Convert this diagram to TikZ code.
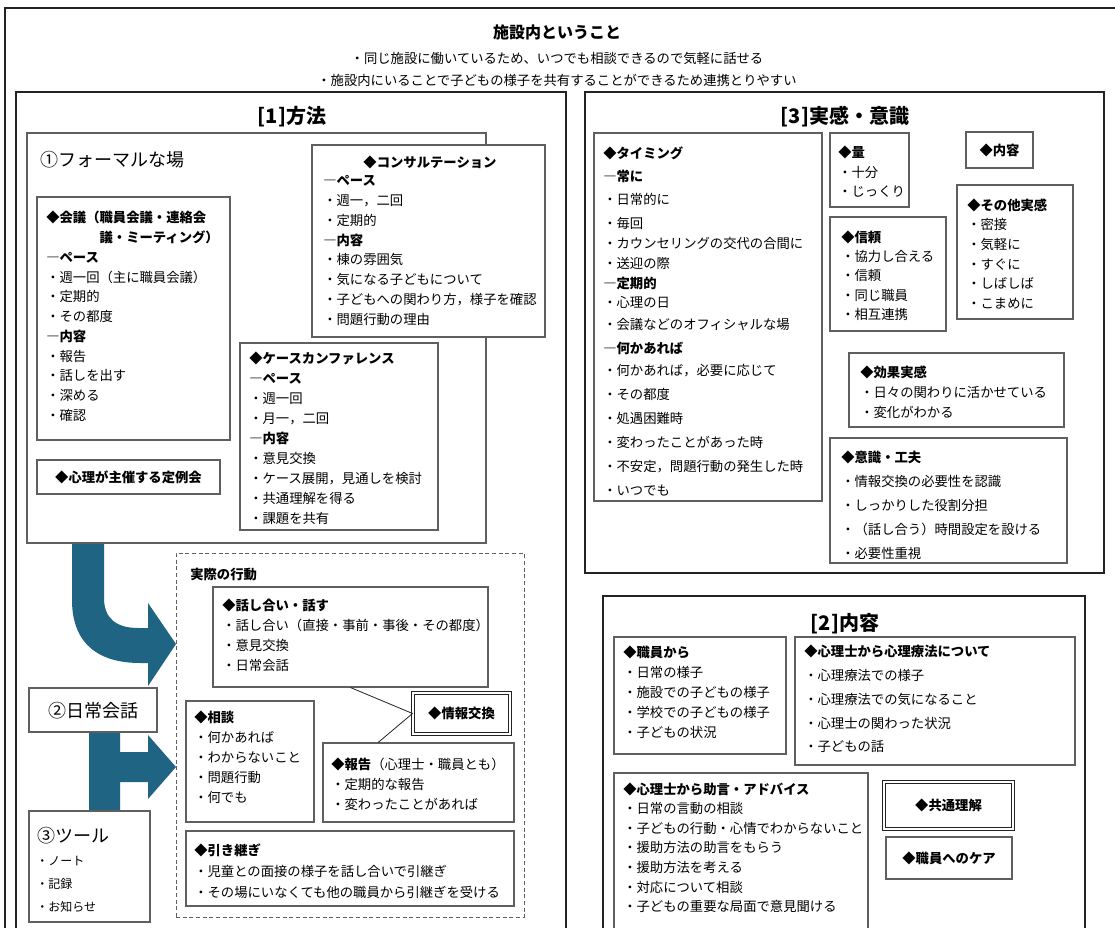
\documentclass[tikz,border=0pt]{standalone}
\usepackage{fontspec}
\setmainfont{Noto Sans CJK JP}
\usetikzlibrary{fit,calc}
\definecolor{arrowteal}{RGB}{31,100,130}
\definecolor{edgegray}{RGB}{95,95,95}
\definecolor{darkline}{RGB}{35,35,35}
\newcommand{\mybox}[6][box]{\node[#1, fit={(#3,#4) (#5,#6)}] (#2) {};}
\begin{document}
\begin{tikzpicture}[x=0.75pt,y=-0.75pt,
 box/.style={draw=edgegray, line width=0.8pt, fill=white, inner sep=0pt},
 sect/.style={draw=darkline, line width=1.6pt, fill=white, inner sep=0pt},
 dbox/.style={draw=darkline, double=white, double distance=1.5pt, line width=0.7pt, fill=white, inner sep=0pt},
 dashbox/.style={draw=edgegray, dash pattern=on 3pt off 2pt, line width=0.6pt, inner sep=0pt},
 txt/.style={anchor=base west, align=left, inner sep=0pt, font=\fontsize{10}{15}\selectfont},
 btxt/.style={anchor=base, inner sep=0pt, font=\bfseries\fontsize{10}{15}\selectfont},
 ctxt/.style={anchor=base, inner sep=0pt, font=\fontsize{10}{15}\selectfont},
 sectitle/.style={anchor=base, inner sep=0pt, font=\bfseries\fontsize{15}{18}\selectfont},
 bigtxt/.style={inner sep=0pt, font=\fontsize{13.5}{16}\selectfont},
 link/.style={draw=darkline, line width=0.6pt},
 blockarrow/.style={fill=arrowteal, draw=none}
]
\useasboundingbox (0,0) rectangle (1115,928);
\clip (0,0) rectangle (1115,928);
\fill[white] (0,0) rectangle (1115,928);

% outer frame and title
\mybox[sect]{outer}{5}{8}{1130}{945}
\node[anchor=base, inner sep=0pt, font=\bfseries\fontsize{12}{14}\selectfont] (title) at (557,38) {施設内ということ};
\node[ctxt] (sub1) at (557,63) {・同じ施設に働いているため、いつでも相談できるので気軽に話せる};
\node[ctxt] (sub2) at (557,85) {・施設内にいることで子どもの様子を共有することができるため連携とりやすい};

% ===== [1] method =====
\mybox[sect]{m1}{16}{92}{566}{945}
\node[sectitle] (m1t) at (292,123) {[1]方法};

% arrows (behind boxes)
\path[blockarrow] (72,543) -- (72,600) .. controls (72,645) and (100,663) .. (140,663) -- (148,663) -- (148,686) -- (176,644) -- (148,603) -- (148,628) -- (138,628) .. controls (116,628) and (104,618) .. (104,598) -- (104,543) -- cycle;
\path[blockarrow] (89,730) -- (89,813) -- (120,813) -- (120,782) -- (148,782) -- (148,799) -- (176,767) -- (148,735) -- (148,752) -- (120,752) -- (120,730) -- cycle;

\mybox{formal}{27}{133}{486}{543}
\node[bigtxt, anchor=base west] (formalt) at (40,166) {①フォーマルな場};

% multi-line nodes: anchored at the baseline of their LAST line
\mybox{kaigi}{37}{197}{230}{440}
\node[txt, font=\fontsize{10}{14.8}\selectfont] (kaigit) at (46,420.3) {\textbf{◆会議（職員会議・連絡会}\\
\textbf{\phantom{◆会議（}議・ミーティング）}\\
\textbf{―ペース}\\
・週一回（主に職員会議）\\
・定期的\\
・その都度\\
\textbf{―内容}\\
・報告\\
・話しを出す\\
・深める\\
・確認};

\mybox{teirei}{37}{460}{220}{494}
\node[btxt, anchor=center] (teireit) at (teirei.center) {◆心理が主催する定例会};

\mybox{consult}{312}{145}{545}{337}
\node[btxt] (consultt) at (430,167) {◆コンサルテーション};
\node[txt, font=\fontsize{10}{14.8}\selectfont] (consultl) at (323,324.1) {\textbf{―ペース}\\
・週一，二回\\
・定期的\\
\textbf{―内容}\\
・棟の雰囲気\\
・気になる子どもについて\\
・子どもへの関わり方，様子を確認\\
・問題行動の理由};

\mybox{case}{240}{343}{438}{530}
\node[txt] (caset) at (249,523) {\textbf{◆ケースカンファレンス}\\
\textbf{―ペース}\\
・週一回\\
・月一，二回\\
\textbf{―内容}\\
・意見交換\\
・ケース展開，見通しを検討\\
・共通理解を得る\\
・課題を共有};

% actual actions
\mybox[dashbox]{actual}{176}{553}{524}{917}
\node[txt] (actualt) at (190,579) {\textbf{実際の行動}};

\mybox{hanashi}{213}{587}{488}{687}
\node[txt] (hanashit) at (222,670) {\textbf{◆話し合い・話す}\\
・話し合い（直接・事前・事後・その都度）\\
・意見交換\\
・日常会話};

\mybox[dbox]{jouhou}{413}{693}{510}{734}
\node[btxt, anchor=center] (jouhout) at (jouhou.center) {◆情報交換};

\mybox{soudan}{186}{701}{314}{822}
\node[txt] (soudant) at (194,802) {\textbf{◆相談}\\
・何かあれば\\
・わからないこと\\
・問題行動\\
・何でも};

\mybox{houkoku}{323}{743}{514}{822}
\node[txt] (houkokut) at (331,809) {\textbf{◆報告}（心理士・職員とも）\\
・定期的な報告\\
・変わったことがあれば};

\draw[link] (hanashi.south) -- (jouhou.west);
\draw[link] (jouhou.west) -- ($(houkoku.north west)!0.29!(houkoku.north east)$);

\mybox{hikitsugi}{186}{831}{514}{906}
\node[txt, font=\fontsize{10}{15.75}\selectfont] (hikitsugit) at (194,897) {\textbf{◆引き継ぎ}\\
・児童との面接の様子を話し合いで引継ぎ\\
・その場にいなくても他の職員から引継ぎを受ける};

\mybox{daily}{29}{688}{157}{732}
\node[bigtxt, anchor=base] (dailyt) at (93,717) {②日常会話};

\mybox{tool}{29}{811}{150}{922}
\node[bigtxt, anchor=base west] (toolt) at (37,842) {③ツール};
\node[txt, font=\fontsize{9}{17.25}\selectfont] (tooll) at (36,911) {・ノート\\
・記録\\
・お知らせ};

% ===== [3] feeling =====
\mybox[sect]{m3}{585}{92}{1104}{573}
\node[sectitle] (m3t) at (845,123) {[3]実感・意識};

\mybox{timing}{594}{133}{822}{501}
\node[txt] (timingt) at (603,495) {\textbf{◆タイミング}\\[2.25pt]
\textbf{―常に}\\[2.25pt]
・日常的に\\[3pt]
・毎回\\
・カウンセリングの交代の合間に\\
・送迎の際\\
\textbf{―定期的}\\[-0.75pt]
・心理の日\\[1.5pt]
・会議などのオフィシャルな場\\[3pt]
\textbf{―何かあれば}\\[1.5pt]
・何かあれば，必要に応じて\\[3pt]
・その都度\\[3pt]
・処遇困難時\\[3pt]
・変わったことがあった時\\[3pt]
・不安定，問題行動の発生した時\\[3pt]
・いつでも};

\mybox{ryou}{830}{133}{909}{207}
\node[txt, font=\fontsize{10}{14.6}\selectfont] (ryout) at (838,196.9) {\textbf{◆量}\\
・十分\\
・じっくり};

\mybox{naiyou3}{966}{132}{1033}{168}
\node[btxt, anchor=center] (naiyou3t) at (naiyou3.center) {◆内容};

\mybox{sonota}{957}{185}{1073}{319}
\node[txt, font=\fontsize{10}{14.8}\selectfont] (sonotat) at (967,308.7) {\textbf{◆その他実感}\\
・密接\\
・気軽に\\
・すぐに\\
・しばしば\\
・こまめに};

\mybox{shinrai}{830}{217}{946}{331}
\node[txt, font=\fontsize{10}{14.6}\selectfont] (shinrait) at (841,319.9) {\textbf{◆信頼}\\
・協力し合える\\
・信頼\\
・同じ職員\\
・相互連携};

\mybox{kouka}{849}{353}{1064}{427}
\node[txt] (koukat) at (860,417) {\textbf{◆効果実感}\\
・日々の関わりに活かせている\\
・変化がわかる};

\mybox{ishiki}{830}{438}{1067}{563}
\node[txt, font=\fontsize{10}{18}\selectfont] (ishikit) at (841,558) {\textbf{◆意識・工夫}\\
・情報交換の必要性を認識\\
・しっかりした役割分担\\
・（話し合う）時間設定を設ける\\
・必要性重視};

% ===== [2] content =====
\mybox[sect]{m2}{603}{596}{1085}{945}
\node[sectitle] (m2t) at (845,630) {[2]内容};

\mybox{shokuin}{614}{637}{786}{754}
\node[txt] (shokuint) at (623,737) {\textbf{◆職員から}\\
・日常の様子\\
・施設での子どもの様子\\
・学校での子どもの様子\\
・子どもの状況};

\mybox{ryouhou}{795}{637}{1075}{765}
\node[txt, font=\fontsize{10}{17.8}\selectfont] (ryouhout) at (804,751.9) {\textbf{◆心理士から心理療法について}\\
・心理療法での様子\\
・心理療法での気になること\\
・心理士の関わった状況\\
・子どもの話};

\mybox{jogen}{614}{773}{868}{945}
\node[txt, font=\fontsize{10}{14.7}\selectfont] (jogent) at (623,911.6) {\textbf{◆心理士から助言・アドバイス}\\
・日常の言動の相談\\
・子どもの行動・心情でわからないこと\\
・援助方法の助言をもらう\\
・援助方法を考える\\
・対応について相談\\
・子どもの重要な局面で意見聞ける};

\mybox[dbox]{kyoutsuu}{884}{782}{1013}{829}
\node[btxt, anchor=center] (kyoutsuut) at (kyoutsuu.center) {◆共通理解};

\mybox{care}{886}{837}{1012}{879}
\node[btxt, anchor=center] (caret) at (care.center) {◆職員へのケア};
\end{tikzpicture}
\end{document}
